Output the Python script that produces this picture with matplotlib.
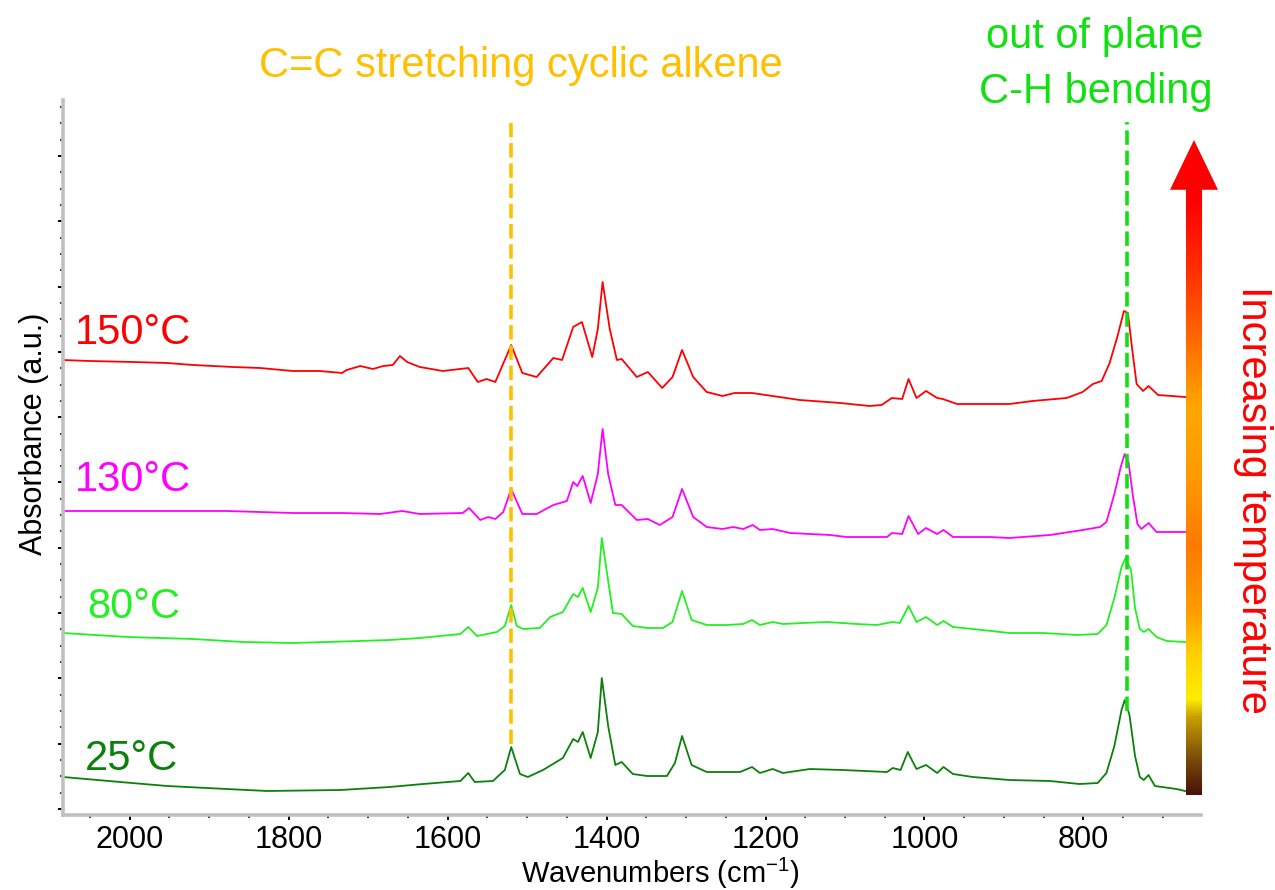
import matplotlib
matplotlib.use('Agg')
import matplotlib.pyplot as plt
import numpy as np
from matplotlib.colors import LinearSegmentedColormap
from matplotlib.patches import Polygon
from matplotlib.ticker import MultipleLocator

plt.rcParams['font.family'] = ['Liberation Sans', 'DejaVu Sans']
plt.rcParams['mathtext.default'] = 'regular'

# spectra: wavenumber (cm-1) and stacked absorbance (a.u.)
wn_25 = [2084, 2012, 1953, 1878, 1827, 1735, 1673, 1631, 1584, 1574, 1566, 1543, 1528, 1520, 1509,
         1499, 1480, 1455, 1442, 1436, 1430, 1420, 1411, 1406, 1398, 1389, 1381, 1367, 1349, 1324,
         1314, 1305, 1293, 1274, 1232, 1217, 1207, 1191, 1178, 1144, 1103, 1047, 1040, 1030, 1021,
         1010, 998, 984, 976, 964, 939, 893, 842, 805, 782, 771, 761, 752, 748, 742, 735, 729, 724,
         718, 710, 683, 672]
a_25 = [0.038, 0.033, 0.029, 0.026, 0.024, 0.025, 0.028, 0.031, 0.034, 0.042, 0.033, 0.034, 0.045,
        0.068, 0.041, 0.038, 0.045, 0.057, 0.076, 0.073, 0.083, 0.057, 0.083, 0.137, 0.089, 0.050,
        0.053, 0.041, 0.039, 0.039, 0.052, 0.079, 0.050, 0.043, 0.043, 0.048, 0.042, 0.046, 0.042,
        0.046, 0.045, 0.043, 0.047, 0.045, 0.063, 0.046, 0.050, 0.042, 0.048, 0.041, 0.038, 0.035,
        0.034, 0.031, 0.032, 0.042, 0.069, 0.105, 0.115, 0.100, 0.059, 0.038, 0.035, 0.040, 0.029,
        0.026, 0.024]

wn_80 = [2084, 2003, 1920, 1857, 1795, 1752, 1673, 1635, 1584, 1574, 1563, 1538, 1528, 1520, 1513,
         1505, 1484, 1471, 1455, 1442, 1436, 1430, 1420, 1411, 1406, 1400, 1392, 1381, 1367, 1349,
         1329, 1317, 1305, 1293, 1274, 1249, 1228, 1217, 1207, 1191, 1178, 1153, 1122, 1085, 1060,
         1040, 1031, 1020, 1010, 998, 984, 976, 964, 939, 893, 851, 808, 782, 771, 761, 752, 747,
         740, 735, 729, 724, 718, 708, 695, 672]
a_80 = [0.182, 0.178, 0.176, 0.173, 0.172, 0.173, 0.175, 0.177, 0.181, 0.188, 0.179, 0.183, 0.189,
        0.210, 0.189, 0.186, 0.187, 0.198, 0.203, 0.221, 0.218, 0.227, 0.203, 0.227, 0.277, 0.245,
        0.202, 0.201, 0.189, 0.187, 0.187, 0.193, 0.224, 0.195, 0.190, 0.190, 0.191, 0.195, 0.190,
        0.193, 0.191, 0.192, 0.193, 0.191, 0.190, 0.193, 0.192, 0.209, 0.193, 0.198, 0.190, 0.194,
        0.188, 0.186, 0.182, 0.182, 0.180, 0.181, 0.190, 0.217, 0.248, 0.257, 0.245, 0.207, 0.186,
        0.183, 0.186, 0.178, 0.174, 0.173]

wn_130 = [2084, 1878, 1795, 1733, 1685, 1657, 1635, 1581, 1573, 1559, 1549, 1540, 1530, 1520, 1506,
          1488, 1467, 1450, 1442, 1437, 1430, 1420, 1411, 1405, 1398, 1389, 1381, 1362, 1348, 1333,
          1317, 1305, 1291, 1274, 1254, 1241, 1228, 1216, 1207, 1191, 1169, 1119, 1098, 1047, 1041,
          1028, 1020, 1008, 998, 984, 976, 964, 918, 893, 842, 801, 779, 771, 761, 753, 748, 743,
          738, 732, 727, 718, 708, 672]
a_130 = [0.304, 0.304, 0.302, 0.302, 0.301, 0.304, 0.301, 0.302, 0.307, 0.295, 0.298, 0.296, 0.303,
         0.326, 0.301, 0.301, 0.310, 0.314, 0.333, 0.329, 0.339, 0.312, 0.341, 0.386, 0.341, 0.310,
         0.310, 0.295, 0.296, 0.290, 0.298, 0.326, 0.298, 0.288, 0.286, 0.288, 0.286, 0.290, 0.285,
         0.286, 0.282, 0.280, 0.278, 0.278, 0.282, 0.281, 0.299, 0.281, 0.287, 0.281, 0.285, 0.278,
         0.278, 0.277, 0.280, 0.285, 0.288, 0.293, 0.321, 0.348, 0.361, 0.352, 0.321, 0.291, 0.286,
         0.292, 0.283, 0.283]

wn_150 = [2084, 2050, 1996, 1953, 1920, 1870, 1836, 1795, 1761, 1733, 1727, 1710, 1694, 1681, 1669,
          1660, 1651, 1635, 1606, 1574, 1562, 1551, 1540, 1520, 1506, 1488, 1467, 1456, 1442, 1431,
          1418, 1411, 1405, 1396, 1387, 1381, 1362, 1348, 1330, 1317, 1305, 1291, 1274, 1254, 1239,
          1217, 1191, 1157, 1106, 1069, 1054, 1041, 1028, 1020, 1010, 998, 984, 977, 959, 918, 893,
          864, 821, 801, 788, 777, 767, 757, 749, 744, 738, 733, 725, 718, 706, 672]
a_150 = [0.455, 0.454, 0.453, 0.452, 0.450, 0.448, 0.447, 0.444, 0.444, 0.442, 0.445, 0.449, 0.446,
         0.449, 0.450, 0.459, 0.453, 0.448, 0.444, 0.447, 0.433, 0.436, 0.433, 0.470, 0.442, 0.438,
         0.457, 0.455, 0.488, 0.493, 0.458, 0.486, 0.533, 0.486, 0.455, 0.456, 0.438, 0.443, 0.427,
         0.438, 0.465, 0.438, 0.423, 0.419, 0.422, 0.422, 0.419, 0.415, 0.412, 0.409, 0.410, 0.417,
         0.416, 0.436, 0.417, 0.424, 0.417, 0.416, 0.411, 0.411, 0.411, 0.414, 0.417, 0.423, 0.431,
         0.434, 0.452, 0.479, 0.504, 0.502, 0.462, 0.431, 0.424, 0.429, 0.420, 0.418]

temps = ['25°C', '80°C', '130°C', '150°C']
colors = ['#0b800b', '#22f022', '#ff00ff', '#ff0000']
label_wn = [2056, 2054, 2069, 2069]
label_y = [0.045, 0.197, 0.324, 0.471]

# marked bands
band_wn = [1520, 745]
band_lo = [0.071, 0.104]
band_hi = [0.697, 0.693]
band_colors = ['#ffc000', '#11e011']

fig = plt.figure(figsize=(12.75, 8.9), dpi=100)
ax = fig.add_axes([63 / 1275, 75 / 890, 1138 / 1275, 715 / 890])

series = [(wn_25, a_25), (wn_80, a_80), (wn_130, a_130), (wn_150, a_150)]
for (w, a), c in zip(series, colors):
    ax.plot(w, a, color=c, lw=1.3)

for t, c, lx, ly in zip(temps, colors, label_wn, label_y):
    ax.text(lx, ly, t, color=c, fontsize=30, ha='left', va='baseline')

for w, lo, hi, c in zip(band_wn, band_lo, band_hi, band_colors):
    ax.plot([w, w], [lo, hi], color=c, lw=2.6, ls=(0, (4, 1.6)))

ax.set_xlim(2084, 652)
ax.set_ylim(0, 0.715)
ax.xaxis.set_major_locator(MultipleLocator(200))
ax.xaxis.set_minor_locator(MultipleLocator(50))
ax.yaxis.set_major_locator(MultipleLocator(0.0653, offset=0.006))
ax.yaxis.set_minor_locator(MultipleLocator(0.0653 / 4, offset=0.006))

for s in ['top', 'right']:
    ax.spines[s].set_visible(False)
for s in ['left', 'bottom']:
    ax.spines[s].set_color('#c0c0c0')
    ax.spines[s].set_linewidth(2.6)

ax.tick_params(axis='both', which='major', direction='out', length=3.5, width=1.4,
               color='black', labelsize=22, pad=3.5)
ax.tick_params(axis='both', which='minor', direction='out', length=2.2, width=1.1, color='black')
ax.tick_params(axis='y', labelleft=False)

ax.set_xlabel('Wavenumbers (cm$^{-1}$)', fontsize=21)
ax.xaxis.label.set_va('baseline')
ax.xaxis.set_label_coords(0.525, -0.095)
ax.set_ylabel('Absorbance (a.u.)', fontsize=22)
ax.yaxis.set_label_coords(-0.012, 0.533)

fig.text(521 / 1275, 1 - 77 / 890, 'C=C stretching cyclic alkene', color='#ffc000',
         fontsize=30, ha='center', va='baseline')
fig.text(1095 / 1275, 1 - 48 / 890, 'out of plane', color='#11e011',
         fontsize=30, ha='center', va='baseline')
fig.text(1096 / 1275, 1 - 103 / 890, 'C-H bending', color='#11e011',
         fontsize=30, ha='center', va='baseline')
fig.text(1253 / 1275, 1 - 500 / 890, 'Increasing temperature', color='#ff0000',
         fontsize=30, ha='center', va='center', rotation=270)

# gradient arrow
cmap = LinearSegmentedColormap.from_list('temp', [
    (0.0, '#4a1208'), (0.053, '#7a4a0a'), (0.118, '#c8a000'), (0.145, '#ffee00'),
    (0.221, '#ffcc00'), (0.275, '#ff9e00'), (0.38, '#ff7a00'), (0.485, '#ff9a00'),
    (0.59, '#ffa800'), (0.695, '#ff6a00'), (0.80, '#ff3000'), (0.908, '#ff0000'),
    (1.0, '#ff0000')])
arrow_ax = fig.add_axes([1170 / 1275, 95 / 890, 48 / 1275, 655 / 890])
arrow_ax.set_axis_off()
grad = np.linspace(0, 1, 256).reshape(-1, 1)
im = arrow_ax.imshow(grad, cmap=cmap, origin='lower', aspect='auto', extent=[0, 1, 0, 1])
head = 0.924
shape = Polygon([(0.333, 0), (0.667, 0), (0.667, head), (1, head), (0.5, 1), (0, head),
                 (0.333, head)], closed=True, transform=arrow_ax.transAxes,
                facecolor='none', edgecolor='none')
arrow_ax.add_patch(shape)
im.set_clip_path(shape)
arrow_ax.set_xlim(0, 1)
arrow_ax.set_ylim(0, 1)

fig.savefig('out.png', dpi=100)
